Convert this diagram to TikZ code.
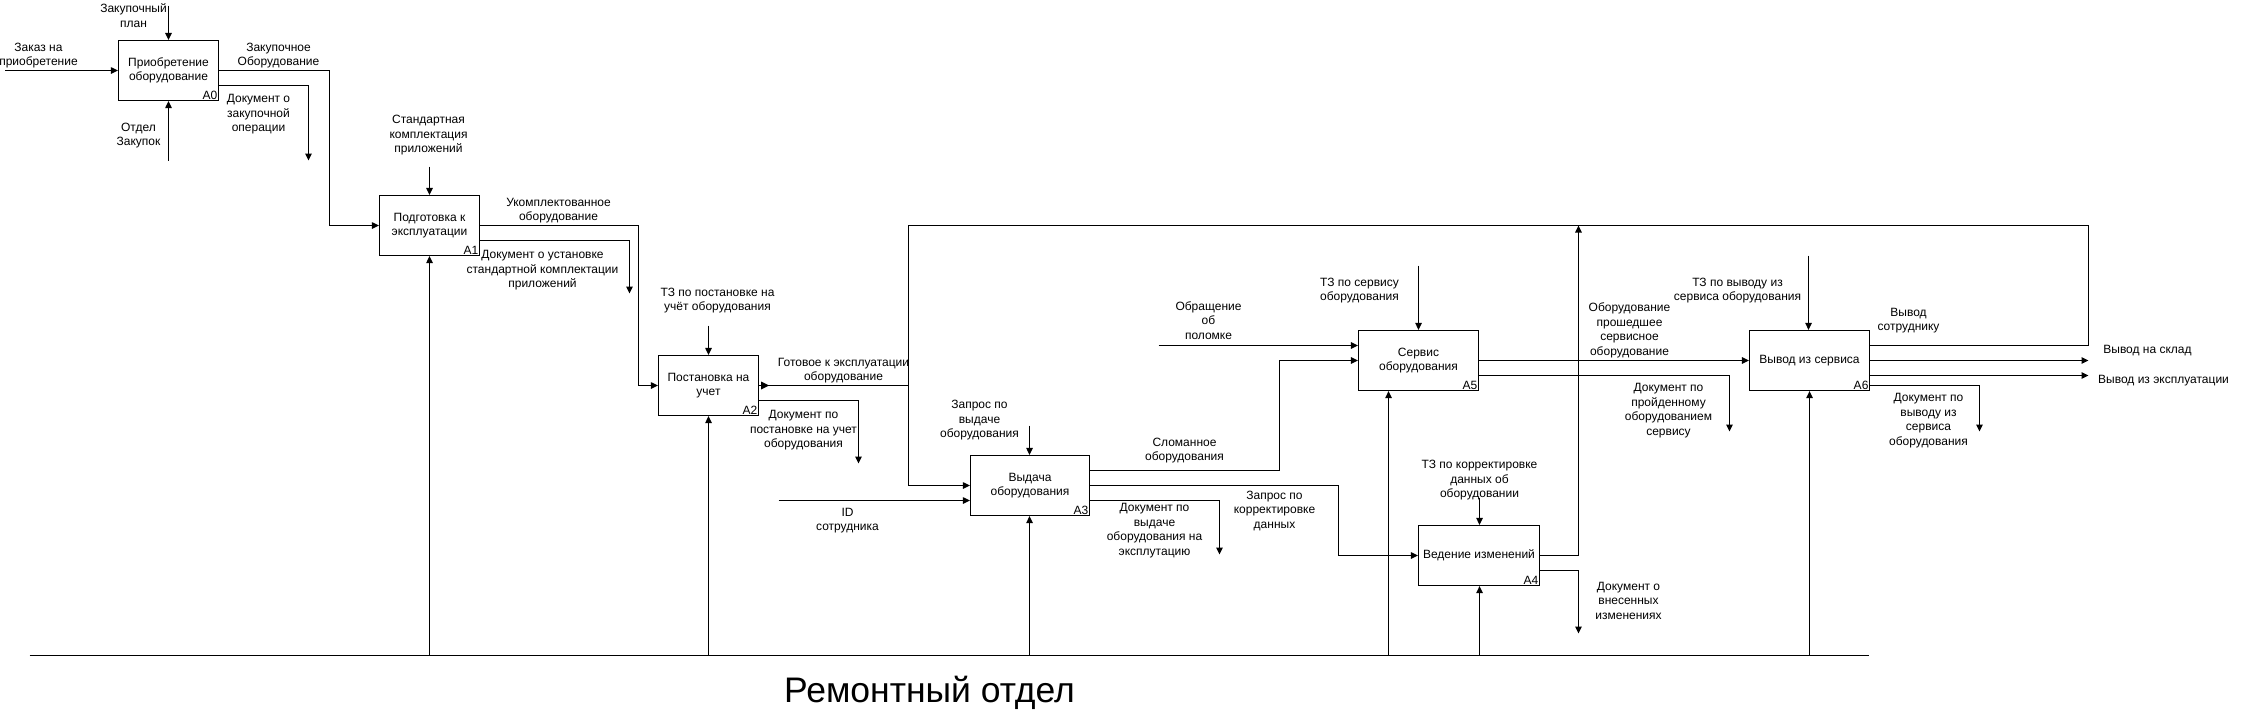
\documentclass[tikz,border=0pt]{standalone}
\usepackage{fontspec}
\setmainfont{Liberation Sans}
\usetikzlibrary{arrows.meta,calc}
\newcommand\lblfont{\fontsize{12}{14.5}\selectfont}
\begin{document}
\begin{tikzpicture}[x=1pt,y=-1pt,
  box/.style={draw, line width=1.2pt, minimum height=60pt, align=center, inner sep=0pt, font=\lblfont},
  tag/.style={anchor=south east, inner sep=1.5pt, font=\lblfont},
  lbl/.style={align=center, inner sep=0pt, font=\lblfont},
  ln/.style={line width=1.2pt},
  arr/.style={line width=1.2pt, -{Triangle[length=7pt,width=6.5pt]}}]
\useasboundingbox (-0.5,-0.5) rectangle (2249.5,712.5);
% boxes
\node[box, minimum width=100pt] (A0) at (168,70) {Приобретение\\оборудование};
\node[box, minimum width=100pt] (A1) at (429,225) {Подготовка к\\эксплуатации};
\node[box, minimum width=100pt] (A2) at (708,385) {Постановка на\\учет};
\node[box, minimum width=119pt] (A3) at (1029.5,485) {Выдача\\оборудования};
\node[box, minimum width=121pt] (A4) at (1478.5,555) {Ведение изменений};
\node[box, minimum width=120pt] (A5) at (1418,360) {Сервис\\оборудования};
\node[box, minimum width=120pt] (A6) at (1809,360) {Вывод из сервиса};
\node[tag] (t0) at (A0.south east) {A0};
\node[tag] (t1) at (A1.south east) {A1};
\node[tag] (t2) at (A2.south east) {A2};
\node[tag] (t3) at (A3.south east) {A3};
\node[tag] (t4) at (A4.south east) {A4};
\node[tag] (t5) at (A5.south east) {A5};
\node[tag] (t6) at (A6.south east) {A6};
% A0
\coordinate (c0) at (168,5);
\draw[arr] (c0) -- (A0.north);
\coordinate (i0) at (5,70);
\draw[arr] (i0) -- (A0.west);
\coordinate (m0) at (168,160);
\draw[arr] (m0) -- (A0.south);
\draw[arr] (A0.east) -- (329,70) |- (A1.west);
\coordinate (o0) at (308,160);
\draw[arr] (A0.east |- 0,85) -| (o0);
% A1
\coordinate (c1) at (429,166);
\draw[arr] (c1) -- (A1.north);
\draw[arr] (A1.east) -- (638,225) |- (A2.west);
\coordinate (o1) at (629,293);
\draw[arr] (A1.east |- 0,240) -| (o1);
\draw[arr] (A1.south |- 0,655) -- (A1.south);
% A2
\coordinate (c2) at (708,325);
\draw[arr] (c2) -- (A2.north);
\coordinate (j2) at (908,385);
\draw[ln] (A2.east) -- (j2);
\fill ($(A2.east)+(2,-4)$) -- ($(A2.east)+(10,0)$) -- ($(A2.east)+(2,4)$) -- cycle;
\coordinate (o2) at (858,463);
\draw[arr] (A2.east |- 0,400) -| (o2);
\draw[arr] (A2.south |- 0,655) -- (A2.south);
% loop from A6 to A3
\draw[arr] (A6.east |- 0,345) -- (2088,345) -- (2088,225) -- (908,225) -- (908,485) -- (A3.west);
% A3
\coordinate (c3) at (1029,425);
\draw[arr] (c3) -- (c3 |- A3.north);
\coordinate (i3) at (778,500);
\draw[arr] (i3) -- (A3.west |- i3);
\coordinate (m3) at (1029,655);
\draw[arr] (m3) -- (m3 |- A3.south);
\draw[arr] (A3.east |- 0,470) -| (1279,360) -- (A5.west);
\draw[arr] (A3.east) -- (1338,485) |- (A4.west);
\coordinate (o3) at (1219,554);
\draw[arr] (A3.east |- 0,500) -| (o3);
% A5
\coordinate (i5) at (1158,345);
\draw[arr] (i5) -- (A5.west |- i5);
\coordinate (c5) at (1418,265);
\draw[arr] (c5) -- (A5.north);
\coordinate (m5) at (1388,655);
\draw[arr] (m5) -- (m5 |- A5.south);
\draw[arr] (A5.east) -- (A6.west);
\coordinate (o5) at (1729,431);
\draw[arr] (A5.east |- 0,375) -| (o5);
% A4
\coordinate (c4) at (1479,497);
\draw[arr] (c4) -- (c4 |- A4.north);
\coordinate (j4) at (1578,225);
\draw[arr] (A4.east) -| (j4);
\coordinate (o4) at (1578,633);
\draw[arr] (A4.east |- 0,570) -| (o4);
\coordinate (m4) at (1479,655);
\draw[arr] (m4) -- (m4 |- A4.south);
% A6
\coordinate (c6) at (1808,255);
\draw[arr] (c6) -- (c6 |- A6.north);
\coordinate (o6a) at (2088,360);
\draw[arr] (A6.east) -- (o6a);
\coordinate (o6b) at (2088,375);
\draw[arr] (A6.east |- o6b) -- (o6b);
\coordinate (o6c) at (1979,431);
\draw[arr] (A6.east |- 0,385) -| (o6c);
\draw[arr] (A6.south |- 0,655) -- (A6.south);
% bottom line
\coordinate (bl) at (29,655);
\coordinate (br) at (1868,655);
\draw[ln] (bl) -- (br);
% labels
\node[lbl] at (133,15) {Закупочный\\план};
\node[lbl] at (38,55) {Заказ на\\приобретение};
\node[lbl] at (138,135) {Отдел\\Закупок};
\node[lbl] at (278,55) {Закупочное\\Оборудование};
\node[lbl] at (258,114) {Документ о\\закупочной\\операции};
\node[lbl] at (428,135) {Стандартная\\комплектация\\приложений};
\node[lbl] at (558,210) {Укомплектованное\\оборудование};
\node[lbl] at (542,270) {Документ о установке\\стандартной комплектации\\приложений};
\node[lbl] at (717,300) {ТЗ по постановке на\\учёт оборудования};
\node[lbl] at (843,370) {Готовое к эксплуатации\\оборудование};
\node[lbl] at (803,430) {Документ по\\постановке на учет\\оборудования};
\node[lbl] at (979,420) {Запрос по\\выдаче\\оборудования};
\node[lbl] at (847,520) {ID\\сотрудника};
\node[lbl] at (1184,450) {Сломанное\\оборудования};
\node[lbl] at (1274,510) {Запрос по\\корректировке\\данных};
\node[lbl] at (1154,530) {Документ по\\выдаче\\оборудования на\\эксплутацию};
\node[lbl] at (1208,320) {Обращение\\об\\поломке};
\node[lbl] at (1359,290) {ТЗ по сервису\\оборудования};
\node[lbl] at (1629,330) {Оборудование\\прошедшее\\сервисное\\оборудование};
\node[lbl] at (1668,410) {Документ по\\пройденному\\оборудованием\\сервису};
\node[lbl] at (1479,480) {ТЗ по корректировке\\данных об\\оборудовании};
\node[lbl] at (1628,600) {Документ о\\внесенных\\изменениях};
\node[lbl] at (1737,290) {ТЗ по выводу из\\сервиса оборудования};
\node[lbl] at (1908,320) {Вывод\\сотруднику};
\node[lbl] at (2147,350) {Вывод на склад};
\node[lbl] at (2163,380) {Вывод из эксплуатации};
\node[lbl] at (1928,420) {Документ по\\выводу из\\сервиса\\оборудования};
\node[lbl, font=\fontsize{35.5}{42}\selectfont] at (929,692) {Ремонтный отдел};
\end{tikzpicture}
\end{document}
